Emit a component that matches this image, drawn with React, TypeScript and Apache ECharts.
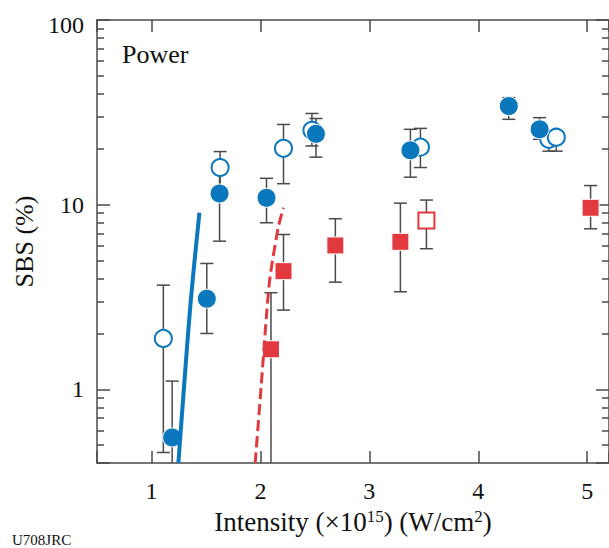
import React, { useEffect, useRef } from "react";
import * as echarts from "echarts";

const X_MIN = 0.5;
const X_MAX = 5.2;
const Y_MIN = 0.4;
const Y_MAX = 100;
const xTickLabels = ["1", "2", "3", "4", "5"];
const yTickLabels = ["1", "10", "100"];

// [intensity, SBS %, error low, error high]
const filledCircles = [
  [1.19, 0.55, 0.2, 1.11],
  [1.508, 3.1, 2.01, 4.81],
  [1.625, 11.5, 6.35, 15.9],
  [2.056, 10.9, 7.99, 13.9],
  [2.51, 24.2, 18.1, 29.3],
  [3.377, 19.7, 14.1, 25.6],
  [4.28, 34.2, 29.0, 38.0],
  [4.563, 25.6, 22.6, 29.6],
];
const openCircles = [
  [1.109, 1.89, 0.456, 3.67],
  [1.63, 15.9, 11.5, 19.4],
  [2.212, 20.2, 13.0, 27.2],
  [2.473, 25.3, 20.8, 31.2],
  [3.469, 20.5, 15.9, 25.9],
  [4.648, 22.6, 19.5, 24.0],
  [4.716, 23.2, 19.5, 24.5],
];
const filledSquares = [
  [2.097, 1.65, 0.2, 3.34],
  [2.212, 4.37, 2.69, 6.9],
  [2.688, 6.02, 3.81, 8.4],
  [3.285, 6.3, 3.38, 10.2],
  [5.031, 9.63, 7.41, 12.7],
];
const openSquares = [[3.524, 8.22, 5.78, 10.6]];

const blueFit = [
  [1.247, 0.4],
  [1.297, 1.0],
  [1.36, 3.0],
  [1.44, 9.05],
];
const redFit = [
  [1.952, 0.4],
  [2.007, 1.04],
  [2.06, 2.71],
  [2.09, 4.11],
  [2.166, 7.65],
  [2.212, 9.63],
];

const BLUE = "#0b77bd";
const RED = "#e1393e";
const AXIS = "#4a4a4a";
const TEXT = "#111111";
const FONT = "Liberation Serif";

function errorBars(rows: number[][]) {
  return {
    type: "custom",
    silent: true,
    z: 1,
    data: rows.map((d) => [d[0], d[2], d[3]]),
    encode: { x: 0, y: [1, 2] },
    renderItem: (params: any, api: any) => {
      const x = api.value(0);
      const lo = api.value(1);
      const hi = api.value(2);
      const cs = params.coordSys;
      const pLo = api.coord([x, lo]);
      const pHi = api.coord([x, hi]);
      const bottom = cs.y + cs.height;
      const top = cs.y;
      const yLo = Math.min(pLo[1], bottom);
      const yHi = Math.max(pHi[1], top);
      const half = 6.5;
      const st = { stroke: AXIS, lineWidth: 1.5 };
      const children: any[] = [
        { type: "line", shape: { x1: pLo[0], y1: yLo, x2: pHi[0], y2: yHi }, style: st },
      ];
      if (pLo[1] <= bottom) {
        children.push({
          type: "line",
          shape: { x1: pLo[0] - half, y1: pLo[1], x2: pLo[0] + half, y2: pLo[1] },
          style: st,
        });
      }
      if (pHi[1] >= top) {
        children.push({
          type: "line",
          shape: { x1: pHi[0] - half, y1: pHi[1], x2: pHi[0] + half, y2: pHi[1] },
          style: st,
        });
      }
      return { type: "group", children };
    },
  };
}

const xLabel = (v: number) => {
  const s = xTickLabels.find((l) => Math.abs(Number(l) - v) < 1e-6);
  return s ?? "";
};
const yLabel = (v: number) => {
  const s = yTickLabels.find((l) => Math.abs(Number(l) - v) < 1e-6 * Number(l));
  if (!s) return "";
  return s === "100" ? "{top|100}" : s;
};

export default function App() {
  const ref = useRef<HTMLDivElement>(null);
  useEffect(() => {
    if (!ref.current) return;
    const chart = echarts.init(ref.current, undefined, { renderer: "svg" });
    const lineSt = { color: AXIS, width: 1.5 };
    const xCommon = {
      type: "value",
      min: X_MIN,
      max: X_MAX,
      splitNumber: 5,
      splitLine: { show: false },
      axisLine: { show: true, lineStyle: lineSt },
      axisTick: { show: true, inside: true, length: 12, lineStyle: lineSt },
    };
    const yCommon = {
      type: "log",
      logBase: 10,
      min: Y_MIN,
      max: Y_MAX,
      splitLine: { show: false },
      axisLine: { show: true, lineStyle: lineSt },
      axisTick: { show: true, inside: true, length: 13, lineStyle: lineSt },
      minorTick: { show: true, splitNumber: 9, length: 7, lineStyle: lineSt },
    };
    chart.setOption({
      animation: false,
      backgroundColor: "#ffffff",
      grid: { left: 97, right: 0, top: 20, bottom: 85, containLabel: false, outerBoundsMode: "none" },
      xAxis: [
        {
          ...xCommon,
          position: "bottom",
          axisLabel: {
            formatter: xLabel,
            fontFamily: FONT,
            fontSize: 24,
            color: TEXT,
            margin: 16,
          },
          name: "Intensity (×10{sup|15}) (W/cm{sup|2})",
          nameLocation: "middle",
          nameGap: 45,
          nameTextStyle: {
            fontFamily: FONT,
            fontSize: 27,
            color: TEXT,
            rich: {
              sup: { fontFamily: FONT, fontSize: 17, color: TEXT, verticalAlign: "top" },
            },
          },
        },
        {
          ...xCommon,
          position: "top",
          axisLabel: { show: false },
        },
      ],
      yAxis: [
        {
          ...yCommon,
          position: "left",
          axisLabel: {
            formatter: yLabel,
            fontFamily: FONT,
            fontSize: 24,
            color: TEXT,
            margin: 13,
            rich: { top: { fontFamily: FONT, fontSize: 24, color: TEXT, padding: [9, 0, 0, 0] } },
          },
          name: "SBS (%)",
          nameLocation: "middle",
          nameGap: 57,
          nameTextStyle: { fontFamily: FONT, fontSize: 26, color: TEXT },
        },
        {
          ...yCommon,
          position: "right",
          axisLabel: { show: false },
        },
      ],
      graphic: [
        {
          type: "text",
          left: 122,
          top: 41,
          style: { text: "Power", fontFamily: FONT, fontSize: 26, fill: TEXT },
        },
        {
          type: "text",
          left: 12,
          top: 532,
          style: { text: "U708JRC", fontFamily: FONT, fontSize: 15, fill: TEXT },
        },
      ],
      series: [
        errorBars([...filledCircles, ...openCircles, ...filledSquares, ...openSquares]),
        {
          type: "line",
          data: blueFit,
          showSymbol: false,
          smooth: 0.3,
          silent: true,
          lineStyle: { color: BLUE, width: 4 },
        },
        {
          type: "line",
          data: redFit,
          showSymbol: false,
          smooth: 0.3,
          silent: true,
          lineStyle: { color: RED, width: 3, type: [11, 5] },
        },
        {
          type: "scatter",
          data: openCircles.map((d) => [d[0], d[1]]),
          symbol: "circle",
          symbolSize: 17,
          itemStyle: { color: "#ffffff", borderColor: BLUE, borderWidth: 2, opacity: 1 },
        },
        {
          type: "scatter",
          data: filledCircles.map((d) => [d[0], d[1]]),
          symbol: "circle",
          symbolSize: 19,
          itemStyle: { color: BLUE, borderColor: "#ffffff", borderWidth: 1, opacity: 1 },
        },
        {
          type: "scatter",
          data: openSquares.map((d) => [d[0], d[1]]),
          symbol: "rect",
          symbolSize: 16,
          itemStyle: { color: "#ffffff", borderColor: RED, borderWidth: 2, opacity: 1 },
        },
        {
          type: "scatter",
          data: filledSquares.map((d) => [d[0], d[1]]),
          symbol: "rect",
          symbolSize: 17,
          itemStyle: { color: RED, borderColor: "#ffffff", borderWidth: 1, opacity: 1 },
        },
      ],
    });
    return () => chart.dispose();
  }, []);
  return (
    <div
      ref={ref}
      style={{ position: "fixed", left: 0, top: 0, width: 609, height: 548, background: "#fff" }}
    />
  );
}
